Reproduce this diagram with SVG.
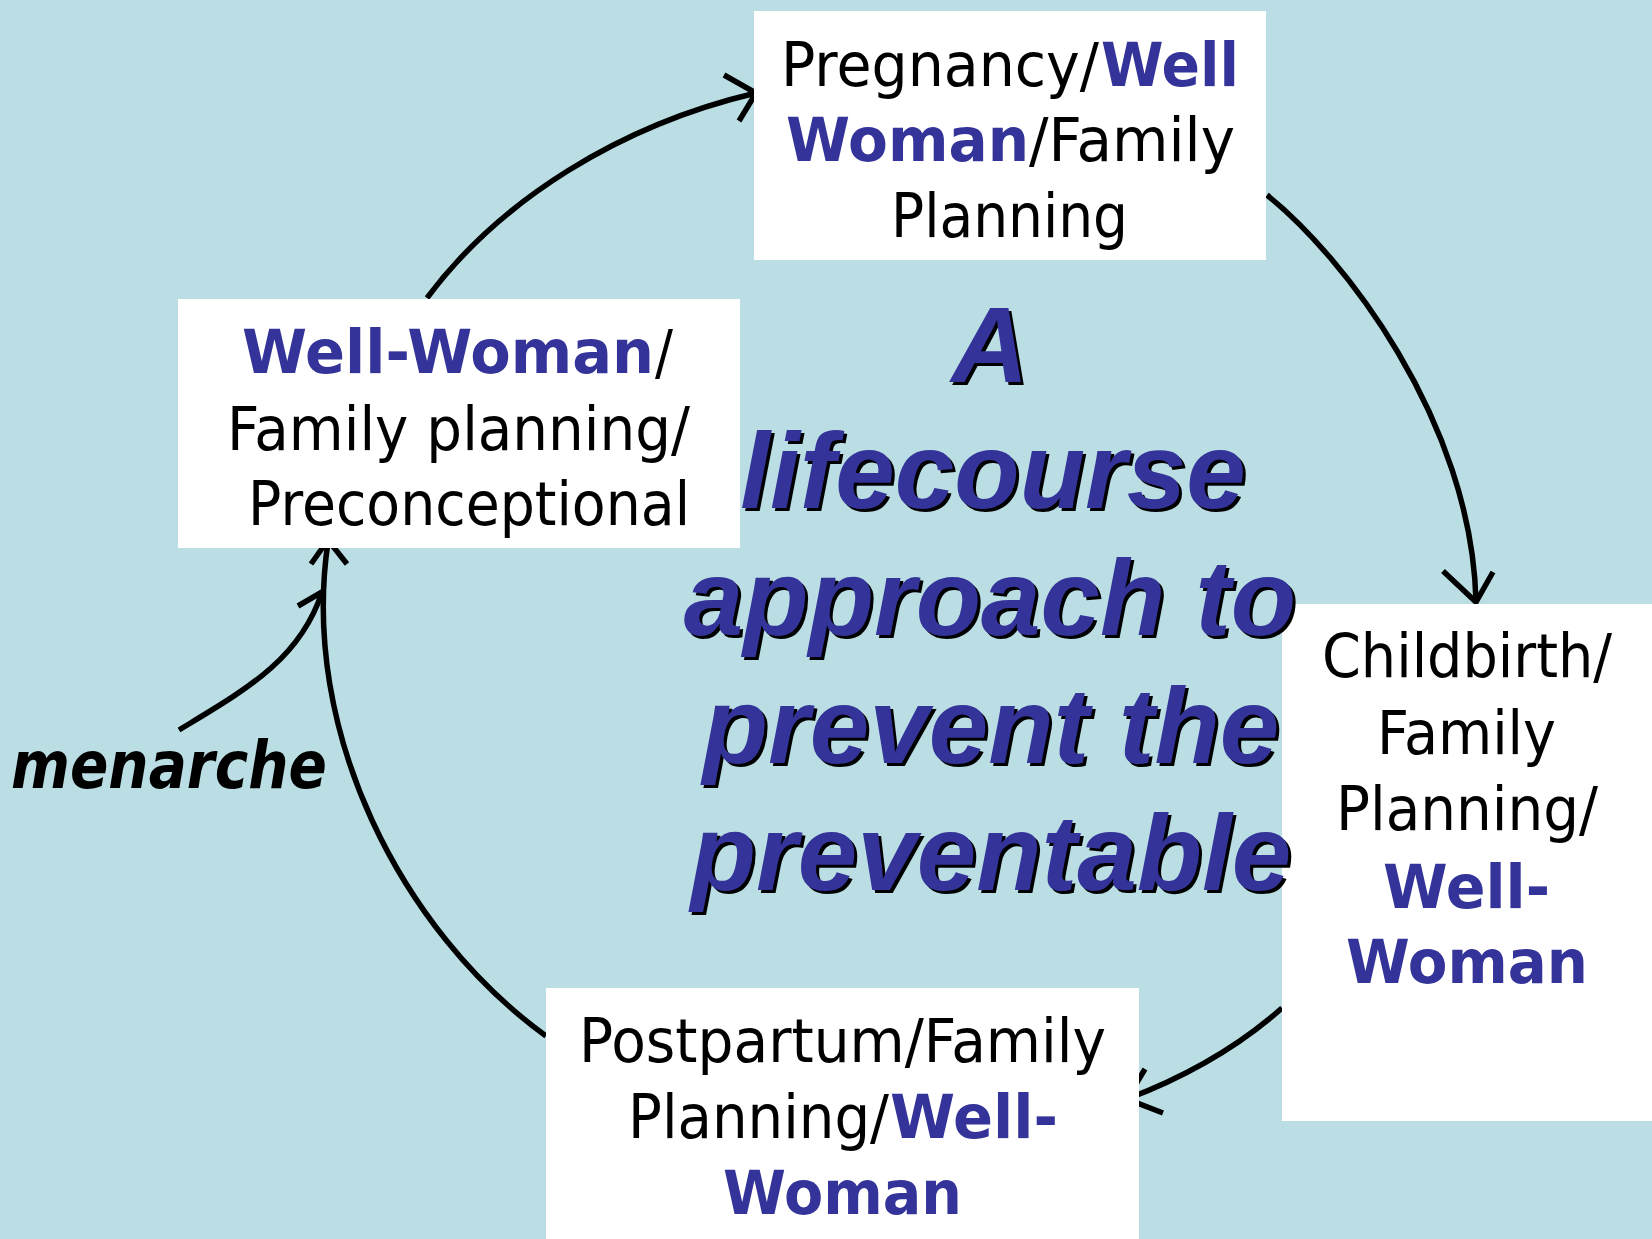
<svg xmlns="http://www.w3.org/2000/svg" xmlns:xlink="http://www.w3.org/1999/xlink" width="1652" height="1239" viewBox="0 0 1652 1239">
  <style>
    .box { fill: #FFFFFF; }
    .lbl { font-family: "DejaVu Sans", "Verdana", sans-serif; font-size: 61px; fill: #000000; }
    .b { font-weight: bold; fill: #333399; }
    .conn { fill: none; stroke: #000000; stroke-width: 5.5; stroke-linecap: butt; stroke-linejoin: miter; }
    .title { font-family: "Liberation Sans", Arial, sans-serif; font-size: 107px; font-weight: bold; font-style: italic; }
    .men { font-family: "DejaVu Sans", "Verdana", sans-serif; font-size: 66px; font-weight: bold; font-style: italic; fill: #000000; }
  </style>
  <defs>
    <g id="titleText" class="title" text-anchor="middle">
      <text x="990" y="382">A</text>
      <text x="993" y="508">lifecourse</text>
      <text x="990" y="635">approach to</text>
      <text x="991" y="763">prevent the</text>
      <text x="991" y="890">preventable</text>
    </g>
  </defs>
  <rect x="0" y="0" width="1652" height="1239" fill="#BADEE3"/>

  <g id="connectors">
    <path class="conn" d="M427,298 C500,200 620,125 756,93"/>
    <polyline class="conn" points="724,75 756,93 739,121"/>
    <path class="conn" d="M1267,195 C1342,255 1472,420 1476,602"/>
    <polyline class="conn" points="1443,571 1476,602 1493,572"/>
    <path class="conn" d="M1282,1008 Q1219,1064 1127,1099"/>
    <polyline class="conn" points="1145,1069 1127,1099 1163,1113"/>
    <path class="conn" d="M546,1036 C400,930 300,730 328,542"/>
    <polyline class="conn" points="311,564 328,540 347,564"/>
    <path class="conn" d="M179,730 C245,690 300,660 322,592"/>
    <polyline class="conn" points="298,606 322,592"/>
  </g>

  <g id="node-pregnancy">
    <rect class="box" x="754" y="11" width="512" height="249"/>
    <text class="lbl" x="781" y="86" textLength="318" lengthAdjust="spacingAndGlyphs">Pregnancy/</text>
    <text class="lbl b" x="1101" y="86" textLength="138" lengthAdjust="spacingAndGlyphs">Well</text>
    <text class="lbl b" x="786" y="161" textLength="243" lengthAdjust="spacingAndGlyphs">Woman</text>
    <text class="lbl" x="1029" y="161" textLength="206" lengthAdjust="spacingAndGlyphs">/Family</text>
    <text class="lbl" x="891" y="237" textLength="237" lengthAdjust="spacingAndGlyphs">Planning</text>
  </g>

  <g id="node-wellwoman">
    <rect class="box" x="178" y="299" width="562" height="249"/>
    <text class="lbl b" x="242" y="373" textLength="412" lengthAdjust="spacingAndGlyphs">Well-Woman</text>
    <text class="lbl" x="655" y="373" font-size="46" textLength="18" lengthAdjust="spacingAndGlyphs">/</text>
    <text class="lbl" x="227" y="450" textLength="463" lengthAdjust="spacingAndGlyphs">Family planning/</text>
    <text class="lbl" x="248" y="525" textLength="442" lengthAdjust="spacingAndGlyphs">Preconceptional</text>
  </g>

  <g id="node-childbirth">
    <rect class="box" x="1282" y="604" width="370" height="517"/>
    <text class="lbl" x="1322" y="677" textLength="290" lengthAdjust="spacingAndGlyphs">Childbirth/</text>
    <text class="lbl" x="1377" y="754" textLength="179" lengthAdjust="spacingAndGlyphs">Family</text>
    <text class="lbl" x="1336" y="830" textLength="262" lengthAdjust="spacingAndGlyphs">Planning/</text>
    <text class="lbl b" x="1383" y="908" textLength="167" lengthAdjust="spacingAndGlyphs">Well-</text>
    <text class="lbl b" x="1346" y="983" textLength="242" lengthAdjust="spacingAndGlyphs">Woman</text>
  </g>

  <g id="node-postpartum">
    <rect class="box" x="546" y="988" width="593" height="251"/>
    <text class="lbl" x="579" y="1062" textLength="527" lengthAdjust="spacingAndGlyphs">Postpartum/Family</text>
    <text class="lbl" x="628" y="1138" textLength="261" lengthAdjust="spacingAndGlyphs">Planning/</text>
    <text class="lbl b" x="890" y="1138" textLength="168" lengthAdjust="spacingAndGlyphs">Well-</text>
    <text class="lbl b" x="723" y="1214" textLength="239" lengthAdjust="spacingAndGlyphs">Woman</text>
  </g>

  <g id="label-menarche">
    <text class="men" x="11" y="788" textLength="316" lengthAdjust="spacingAndGlyphs">menarche</text>
  </g>

  <g id="title">
    <use xlink:href="#titleText" href="#titleText" x="3" y="3" fill="#000000"/>
    <use xlink:href="#titleText" href="#titleText" fill="#333399"/>
  </g>
</svg>
